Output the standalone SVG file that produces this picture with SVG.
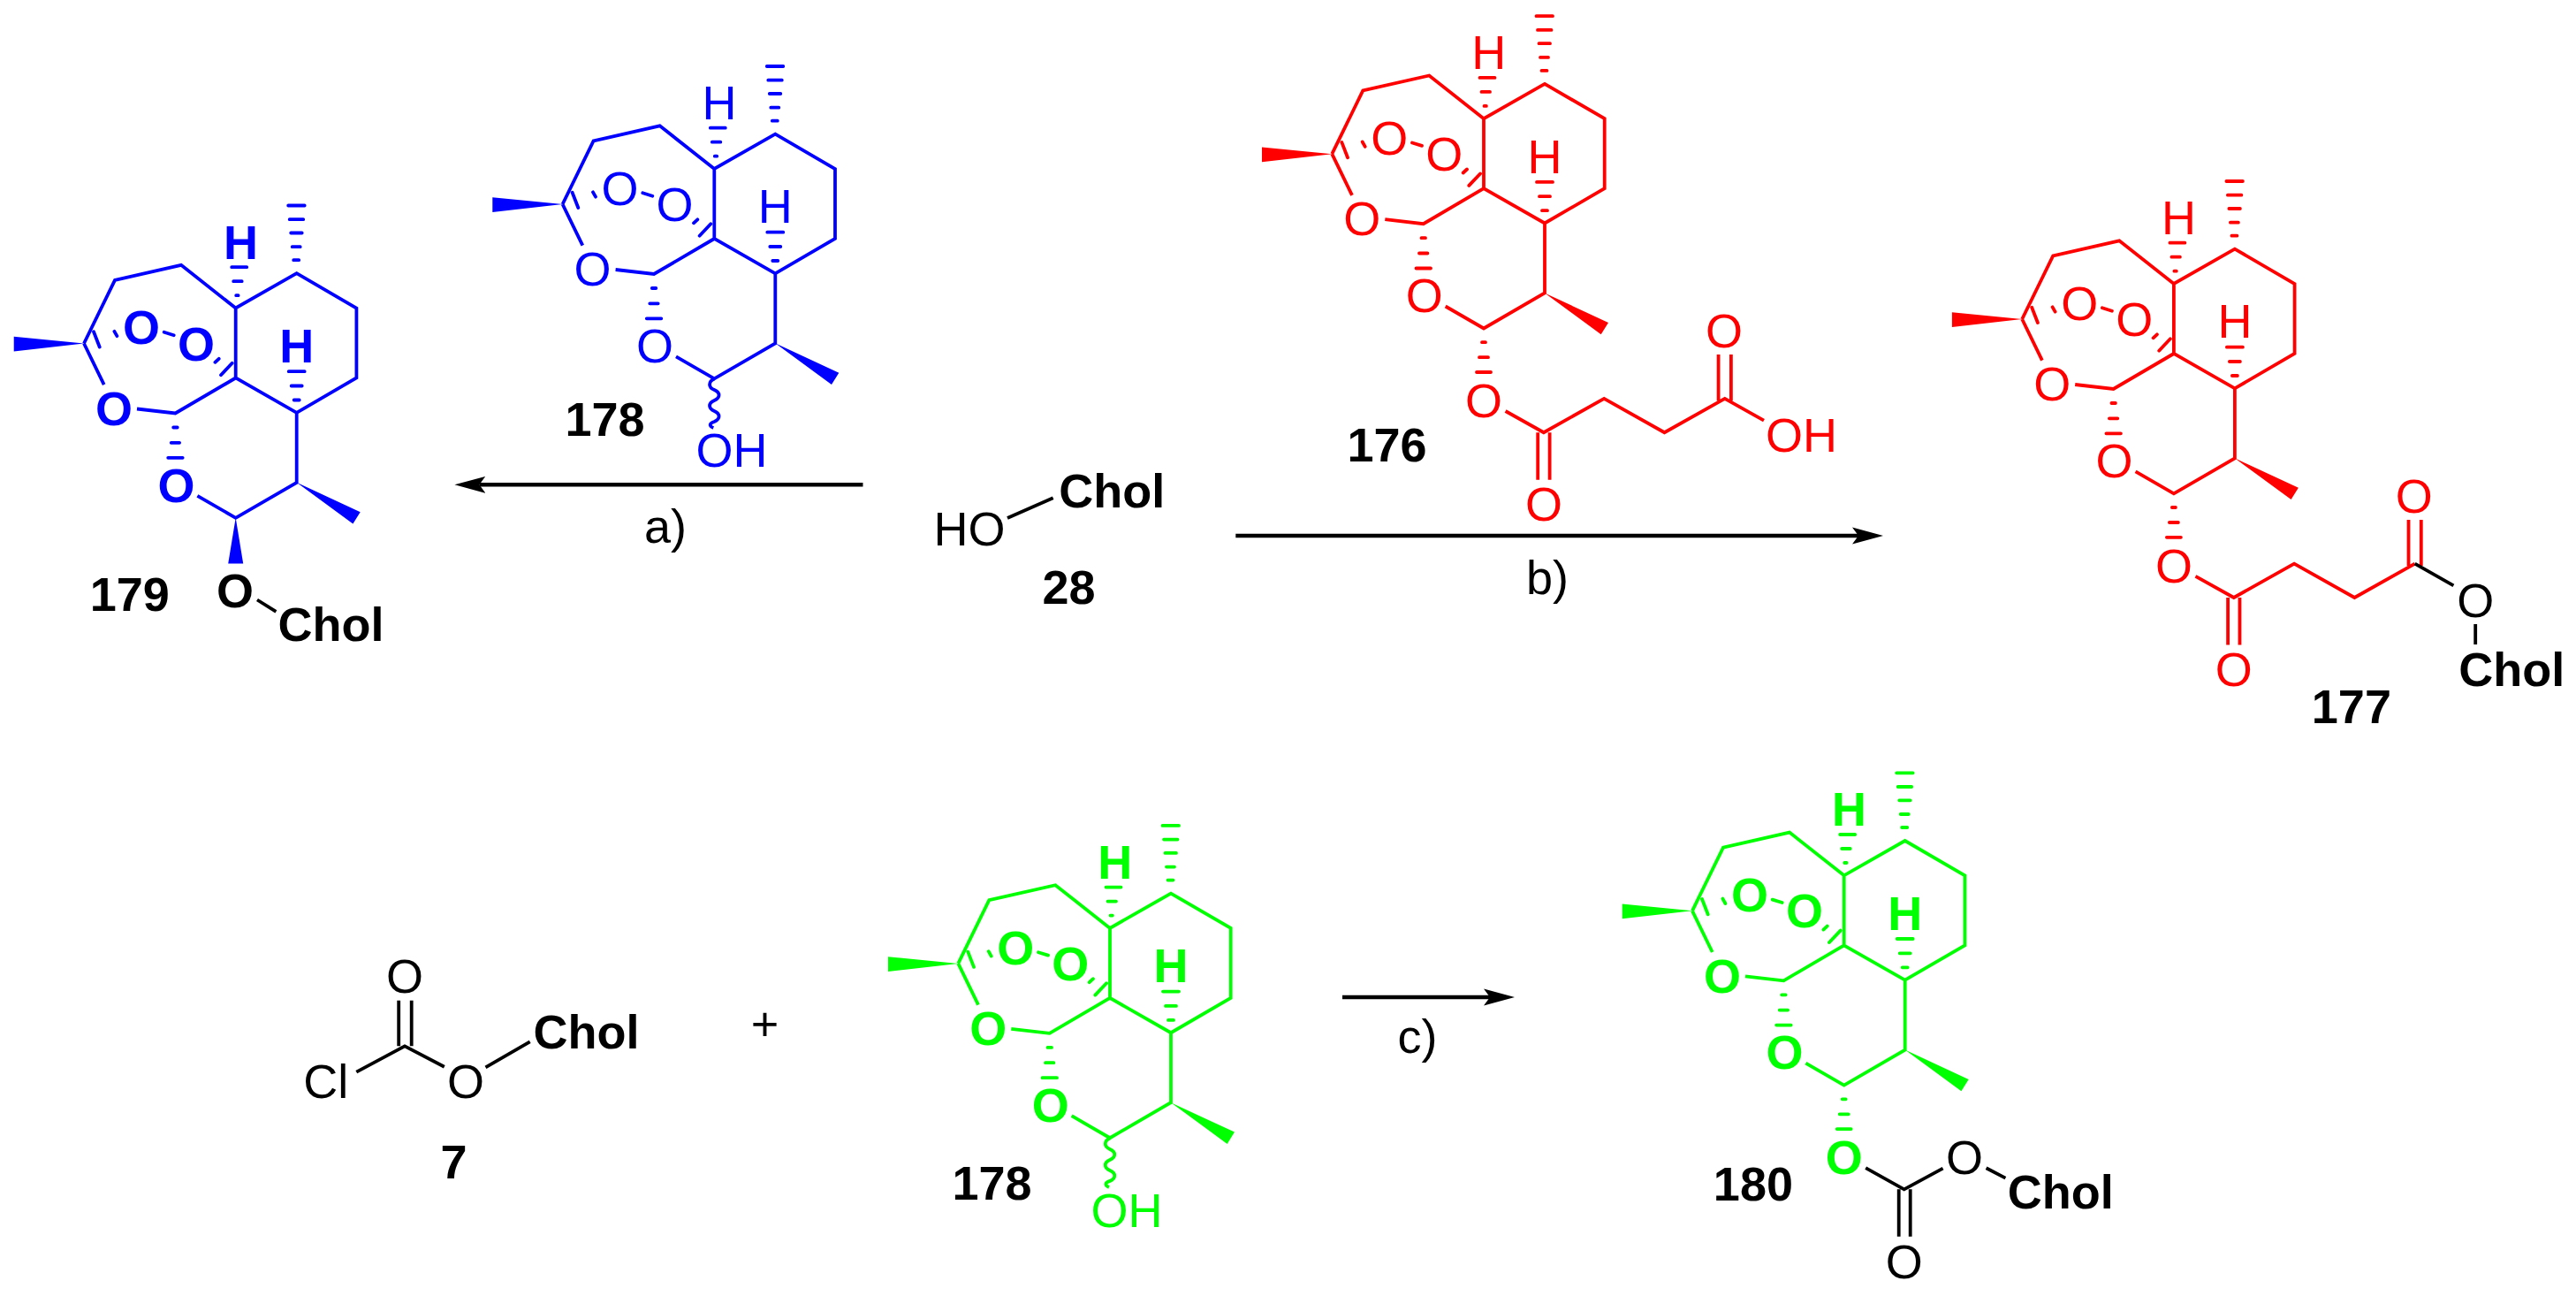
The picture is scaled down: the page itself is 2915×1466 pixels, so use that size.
<svg xmlns="http://www.w3.org/2000/svg" xmlns:xlink="http://www.w3.org/1999/xlink" width="2915" height="1466" viewBox="0 0 2915 1466">
<style>
text{font-family:"Liberation Sans",Arial,sans-serif;font-size:54px;text-anchor:middle;fill:currentColor}
.B{font-weight:bold}
.k{color:#000}
.blue{color:#00f}.red{color:#f00}.green{color:#0f0}
.bd{fill:none;stroke:currentColor;stroke-width:3.8;stroke-linejoin:miter}
.hs{fill:none;stroke:currentColor;stroke-width:3.8;stroke-linecap:round}
.wd{fill:currentColor;stroke:none}
.arw{stroke:#000;stroke-width:4.4;fill:none;marker-end:url(#head)}
</style>
<defs>
<marker id="head" markerUnits="userSpaceOnUse" markerWidth="36" markerHeight="20" viewBox="0 0 36 20" refX="7" refY="10" orient="auto"><path d="M0 .5L35 10L0 19.5L7 10Z" fill="#000"/></marker>
<g id="core">
<path class="bd" d="M-171.7 -39L-136.7 -110.7L-61.7 -127.7L0 -79L69 -118.3L136.7 -79V0L69 39.3L0 0V-79M0 0L-68.3 40L-111.7 35M-171.7 -39L-149 7.7M69 39.3V118.3L0 158.3L-43.3 133.3"/>
<path class="hs" d="M65.5 -133.3H71.5M64 -148.3H73M62.5 -164H75M61 -179.3H76.5M59.5 -195H78M0.5 -93.3H2.9M-2.5 -109.3H7M-4.5 -125.3H12.5M66 25H72M63 9H75M60 -7.3H78M-70.5 56H-66M-73 73.3H-63.6M-76.5 90.3H-60M-160.7 -52.3L-154 -35M-137.3 -52.7L-134.3 -47.3M-81 -51.7L-70 -48.3M-23.3 -17.7L-19 -21.7M-16.7 -3.3L-4 -16.7"/>
<path class="wd" d="M-171.7 -39L-251 -46.7V-30ZM69 118.3L141 151.7L132.7 165Z"/>
</g>
<path id="wavy" class="bd" d="M0 158.3C-7 162 -7 168 0 171C7 174 7 180 0 183C-7 186 -7 192 0 195C7 198 7 204 0 207C-6 209 -6 212 -1 214"/>
</defs>

<g id="connectors">
<line id="arrow-a" class="arw" x1="976.5" y1="548.3" x2="542.4" y2="548.3"/>
<line id="arrow-b" class="arw" x1="1398.3" y1="606" x2="2103" y2="606"/>
<line id="arrow-c" class="arw" x1="1519" y1="1128" x2="1686" y2="1128"/>
<text x="753" y="614.3">a)</text>
<text x="1751" y="671.7">b)</text>
<text x="1604" y="1191">c)</text>
</g>

<g id="mol-179" class="blue" transform="translate(266.7 427.5)">
<use href="#core"/>
<text class="B" x="5.7" y="-135">H</text><text class="B" x="69" y="-17.7">H</text>
<text class="B" x="-106.7" y="-38.3">O</text><text class="B" x="-44.7" y="-20">O</text>
<text class="B" x="-137.7" y="53.3">O</text><text class="B" x="-67.3" y="140">O</text>
<path class="wd" d="M0 158.3L-8.5 210H8.5Z"/>
<g class="k">
<text class="B" x="-.7" y="259">O</text>
<path class="bd" d="M24.3 251L45.7 264.3"/>
<text class="B" x="107.8" y="297.5">Chol</text>
<text class="B" x="-120" y="263.6">179</text>
</g>
</g>

<g id="mol-178-blue" class="blue" transform="translate(808.3 270)">
<use href="#core"/><use href="#wavy"/>
<text x="5.7" y="-135">H</text><text x="69" y="-17.7">H</text>
<text x="-106.7" y="-38.3">O</text><text x="-44.7" y="-20">O</text>
<text x="-137.7" y="53.3">O</text><text x="-67.3" y="140">O</text>
<text x="19.7" y="258.3">OH</text>
<text class="B k" x="-123.7" y="223.3">178</text>
</g>

<g id="mol-176" class="red" transform="translate(1679 213.2)">
<use href="#core"/>
<text x="5.7" y="-135">H</text><text x="69" y="-17.7">H</text>
<text x="-106.7" y="-38.3">O</text><text x="-44.7" y="-20">O</text>
<text x="-137.7" y="53.3">O</text><text x="-67.3" y="140">O</text>
<path class="hs" d="M-2 174H2M-5 191H5M-8 207.8H8"/>
<text x="0" y="258.7">O</text>
<path class="bd" d="M24.6 251.8L67.9 276L136.2 237.7L204.5 276L272.8 237.7L317 262.5M61.2 276V329.5M74.6 276V329.5M265.6 240V187.9M279.9 240V187.9"/>
<text x="67.9" y="376.2">O</text><text x="271.9" y="179.9">O</text>
<text x="359.6" y="297.7">OH</text>
<text class="B k" x="-109.4" y="309.2">176</text>
</g>

<g id="mol-177" class="red" transform="translate(2459.9 400)">
<use href="#core"/>
<text x="5.7" y="-135">H</text><text x="69" y="-17.7">H</text>
<text x="-106.7" y="-38.3">O</text><text x="-44.7" y="-20">O</text>
<text x="-137.7" y="53.3">O</text><text x="-67.3" y="140">O</text>
<path class="hs" d="M-2 174H2M-5 191H5M-8 207.8H8"/>
<text x="0" y="258.7">O</text>
<path class="bd" d="M24.6 251.8L67.9 276L136.2 237.7L204.5 276L272.8 237.7M61.2 276V329.5M74.6 276V329.5M265.6 240V187.9M279.9 240V187.9"/>
<text x="67.9" y="376.2">O</text><text x="271.9" y="179.9">O</text>
<g class="k">
<path class="bd" d="M272.8 237.7L316.5 262.4M341.3 306V329"/>
<text x="341.3" y="298">O</text>
<text class="B" x="382.3" y="376.3">Chol</text>
<text class="B" x="201" y="418.4">177</text>
</g>
</g>

<g id="mol-178-green" class="green" transform="translate(1256 1128.9)">
<use href="#core"/><use href="#wavy"/>
<text class="B" x="5.7" y="-135">H</text><text class="B" x="69" y="-17.7">H</text>
<text class="B" x="-106.7" y="-38.3">O</text><text class="B" x="-44.7" y="-20">O</text>
<text class="B" x="-137.7" y="53.3">O</text><text class="B" x="-67.3" y="140">O</text>
<text x="19" y="259">OH</text>
<text class="B k" x="-133.5" y="228.5">178</text>
</g>

<g id="mol-180" class="green" transform="translate(2086.7 1069.3)">
<use href="#core"/>
<text class="B" x="5.7" y="-135">H</text><text class="B" x="69" y="-17.7">H</text>
<text class="B" x="-106.7" y="-38.3">O</text><text class="B" x="-44.7" y="-20">O</text>
<text class="B" x="-137.7" y="53.3">O</text><text class="B" x="-67.3" y="140">O</text>
<path class="hs" d="M-2 174H2M-5 191H5M-8 207.8H8"/>
<text class="B" x="0" y="259">O</text>
<g class="k">
<path class="bd" d="M24.5 251.9L68 276L111.9 252.3M160.9 251.9L182.7 263.3M62 276V329.4M75 276V329.4"/>
<text x="136.4" y="259">O</text>
<text x="68" y="376.8">O</text>
<text class="B" x="245" y="297.4">Chol</text>
<text class="B" x="-102.8" y="288.7">180</text>
</g>
</g>

<g id="mol-7" class="k">
<path class="bd" d="M403.3 1212.7L458 1183.3L502.8 1206.7M451.2 1183.3V1131.7M465.7 1183.3V1131.7M549.5 1207.3L599.7 1178.3"/>
<text x="458" y="1122.7">O</text>
<text x="368.8" y="1241.7">Cl</text>
<text x="527" y="1241.7">O</text>
<text class="B" x="663.6" y="1186">Chol</text>
<text class="B" x="513.6" y="1332.7">7</text>
</g>

<text id="plus" x="865.6" y="1177">+</text>

<g id="mol-28" class="k">
<path class="bd" d="M1140 586L1191.7 563.3"/>
<text x="1097" y="617.3">HO</text>
<text class="B" x="1258.3" y="574">Chol</text>
<text class="B" x="1209.5" y="682.7">28</text>
</g>
</svg>
